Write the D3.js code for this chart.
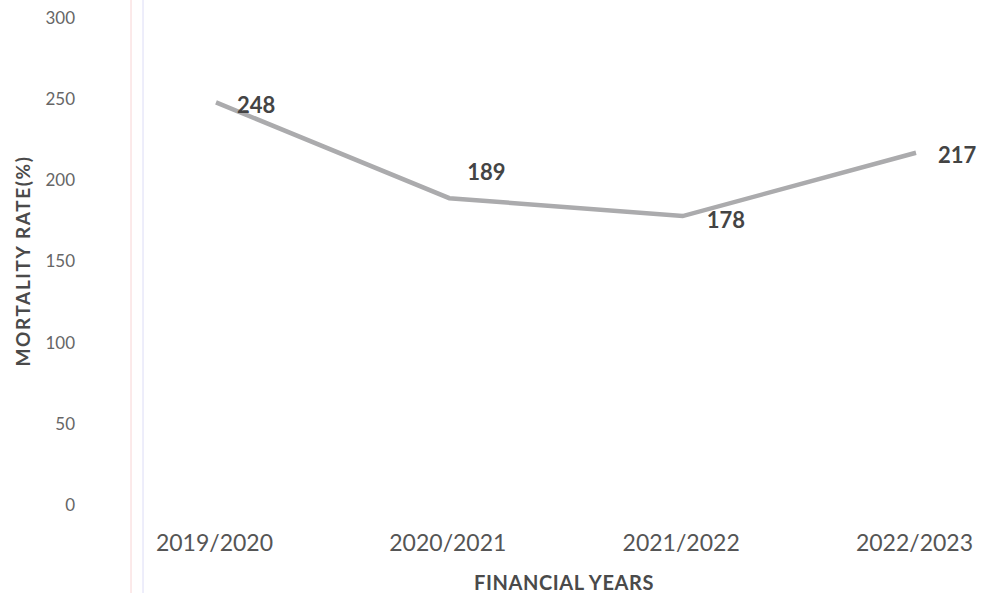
<!DOCTYPE html>
<html>
<head>
<meta charset="utf-8">
<script src="https://cdn.jsdelivr.net/npm/d3@7"></script>
<style>
  body { margin: 0; background: #fff; }
  svg { font-family: Lato, "Open Sans", sans-serif; }
</style>
</head>
<body>
<svg id="chart" width="982" height="593"></svg>
<script>
const years = ["2019/2020", "2020/2021", "2021/2022", "2022/2023"];
const mortality = [248, 189, 178, 217];
const yTicks = [0, 50, 100, 150, 200, 250, 300];

const svg = d3.select("#chart");

const x = d3.scalePoint().domain(years).range([216, 916]);
const y = d3.scaleLinear().domain([0, 300]).range([505, 18]);

// faint scan lines at left of plot
svg.append("line").attr("x1", 131).attr("x2", 131).attr("y1", 0).attr("y2", 593)
    .attr("stroke", "#f8d4d4").attr("stroke-width", 1);
svg.append("line").attr("x1", 143).attr("x2", 143).attr("y1", 0).attr("y2", 593)
    .attr("stroke", "#dcdcf6").attr("stroke-width", 1);

// y axis
const yAxis = svg.append("g")
    .attr("transform", "translate(75,0)")
    .call(d3.axisLeft(y).tickValues(yTicks).tickSize(0).tickPadding(0));
yAxis.select(".domain").remove();
yAxis.selectAll("text")
    .attr("font-size", "17px")
    .attr("fill", "#666")
    .attr("font-family", "Lato, 'Open Sans', sans-serif");

// x axis
const xAxis = svg.append("g")
    .attr("transform", "translate(-2,535)")
    .call(d3.axisBottom(x).tickSize(0).tickPadding(0));
xAxis.select(".domain").remove();
xAxis.selectAll("text")
    .attr("font-size", "23px")
    .attr("fill", "#555")
    .attr("font-family", "Lato, 'Open Sans', sans-serif");

// line
const data = years.map((d, i) => ({ year: d, value: mortality[i] }));
const line = d3.line().x(d => x(d.year)).y(d => y(d.value));

svg.append("path")
    .datum(data)
    .attr("fill", "none")
    .attr("stroke", "#ababad")
    .attr("stroke-width", 4.5)
    .attr("d", line);

// data labels
const labelOffset = [[21, 11], [18, -18], [24, 12], [22, 10]];
svg.selectAll(".lbl")
    .data(data)
    .enter()
    .append("text")
    .attr("class", "lbl")
    .attr("x", (d, i) => x(d.year) + labelOffset[i][0])
    .attr("y", (d, i) => y(d.value) + labelOffset[i][1])
    .attr("font-size", "22px")
    .attr("font-weight", "bold")
    .attr("fill", "#444")
    .text(d => d.value);

// axis titles
svg.append("text")
    .attr("transform", "translate(30,261) rotate(-90)")
    .attr("text-anchor", "middle")
    .attr("font-size", "19px")
    .attr("font-weight", "bold")
    .attr("letter-spacing", "1.6px")
    .attr("fill", "#4a4a4a")
    .text("MORTALITY RATE(%)");

svg.append("text")
    .attr("x", 564)
    .attr("y", 590)
    .attr("text-anchor", "middle")
    .attr("font-size", "20px")
    .attr("font-weight", "bold")
    .attr("letter-spacing", "0.6px")
    .attr("fill", "#4a4a4a")
    .text("FINANCIAL YEARS");
</script>
</body>
</html>
